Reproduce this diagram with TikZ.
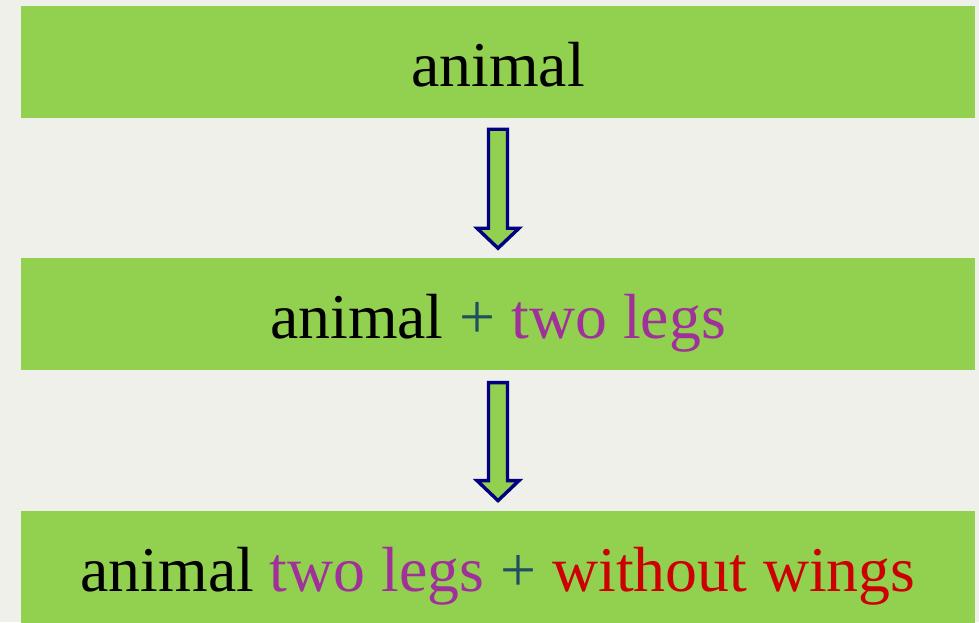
\documentclass[tikz,border=0pt]{standalone}
\usepackage{fontspec}
\setmainfont{Liberation Serif}
\usepackage{tikz}
\usetikzlibrary{calc,positioning}
\definecolor{boxgreen}{HTML}{92D050}
\definecolor{arrowblue}{HTML}{000080}
\definecolor{plusteal}{HTML}{1F4E60}
\definecolor{legpurple}{HTML}{A0319A}
\definecolor{wingred}{HTML}{CC0000}
\definecolor{paper}{HTML}{F0F0EB}
\tikzstyle{block} = [rectangle, fill=boxgreen, minimum width=954pt, minimum height=112pt, text height=49pt, text depth=0pt, font=\fontsize{63.8}{70}\selectfont]
\tikzstyle{blockarrow} = [draw=arrowblue, fill=boxgreen, line width=3.4pt, line join=miter]

\begin{document}
\begin{tikzpicture}[x=1pt,y=-1pt]
      \pgfmathsetmacro{\Shaft}{9.5};
      \pgfmathsetmacro{\Head}{21};
      \fill[paper] (0,0) rectangle (979,622);
      \useasboundingbox (0,0) rectangle (979,622);
      \node[block] at (498,62) (Animal) {animal};
      \node[block,below=140pt of Animal] (TwoLegs) {animal \textcolor{plusteal}{+} \textcolor{legpurple}{two legs}};
      \node[block,below=140pt of TwoLegs] (NoWings) {animal \textcolor{legpurple}{two legs} \textcolor{plusteal}{+} \textcolor{wingred}{without wings}};
      %
      \draw[blockarrow] ($(Animal.south)+(-\Shaft,11)$) -- ($(Animal.south)+(\Shaft,11)$) -- ($(TwoLegs.north)+(\Shaft,-30)$) -- ($(TwoLegs.north)+(\Head,-30)$) -- ($(TwoLegs.north)+(0,-10)$) -- ($(TwoLegs.north)+(-\Head,-30)$) -- ($(TwoLegs.north)+(-\Shaft,-30)$) -- cycle;
      \draw[blockarrow] ($(TwoLegs.south)+(-\Shaft,12)$) -- ($(TwoLegs.south)+(\Shaft,12)$) -- ($(NoWings.north)+(\Shaft,-30)$) -- ($(NoWings.north)+(\Head,-30)$) -- ($(NoWings.north)+(0,-10)$) -- ($(NoWings.north)+(-\Head,-30)$) -- ($(NoWings.north)+(-\Shaft,-30)$) -- cycle;
    \end{tikzpicture}
\end{document}
